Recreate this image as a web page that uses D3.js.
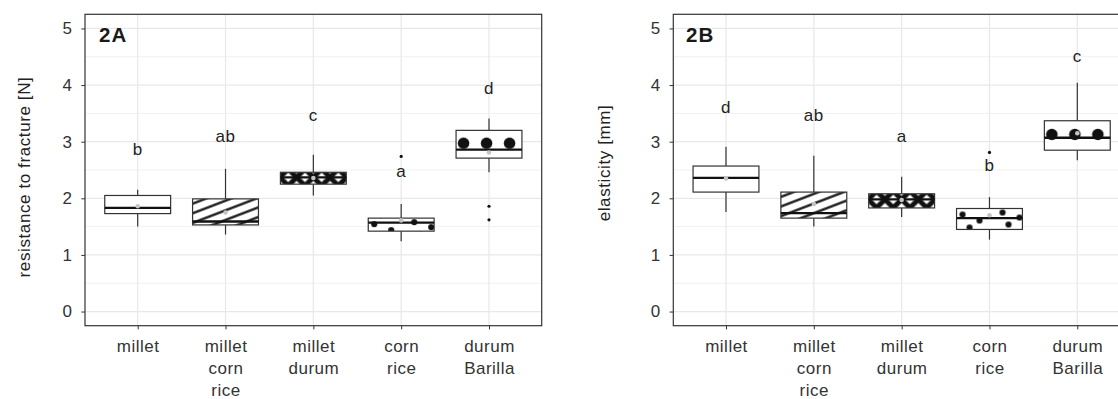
<!DOCTYPE html>
<html>
<head>
<meta charset="utf-8">
<script src="https://cdn.jsdelivr.net/npm/d3@7"></script>
<style>
  body { margin: 0; background: #fff; }
  text { font-family: "Liberation Sans", Arial, sans-serif; }
</style>
</head>
<body>
<div id="viz"></div>
<script>
// categories and their multi-line axis labels
const categories = ["millet", "millet corn rice", "millet durum", "corn rice", "durum Barilla"];
const catLabels = [["millet"], ["millet", "corn", "rice"], ["millet", "durum"], ["corn", "rice"], ["durum", "Barilla"]];
const yTicks = [0, 1, 2, 3, 4, 5];
const yMinor = [0.5, 1.5, 2.5, 3.5, 4.5];
const fills = ["plain", "stripe", "weave", "dots", "circles"];

// 2A - resistance to fracture [N]
const fracLow = [1.50, 1.36, 2.05, 1.24, 2.46];
const fracQ1 = [1.73, 1.53, 2.25, 1.42, 2.71];
const fracMedian = [1.83, 1.59, 2.37, 1.57, 2.86];
const fracQ3 = [2.05, 1.99, 2.46, 1.65, 3.20];
const fracHigh = [2.15, 2.52, 2.77, 1.90, 3.41];
const fracMean = [1.86, 1.75, 2.36, 1.61, 2.81];
const fracOutliers = [[], [], [], [2.74], [1.86, 1.62]];
const fracLetters = ["b", "ab", "c", "a", "d"];
const fracLetterY = [2.77, 3.00, 3.37, 2.38, 3.84];

// 2B - elasticity [mm]
const elaLow = [1.76, 1.50, 1.67, 1.27, 2.67];
const elaQ1 = [2.11, 1.65, 1.83, 1.45, 2.85];
const elaMedian = [2.36, 1.74, 1.98, 1.65, 3.07];
const elaQ3 = [2.57, 2.11, 2.08, 1.82, 3.37];
const elaHigh = [2.91, 2.75, 2.38, 2.02, 4.04];
const elaMean = [2.35, 1.90, 1.97, 1.70, 3.15];
const elaOutliers = [[], [], [], [2.81], []];
const elaLetters = ["d", "ab", "a", "b", "c"];
const elaLetterY = [3.51, 3.37, 3.00, 2.49, 4.41];

const panels = [
    { key: "A", tag: "2A", title: "resistance to fracture [N]", left: 85, titleX: -55, titleY: 177,
      low: fracLow, q1: fracQ1, median: fracMedian, q3: fracQ3, high: fracHigh, mean: fracMean,
      outliers: fracOutliers, letters: fracLetters, letterY: fracLetterY },
    { key: "B", tag: "2B", title: "elasticity [mm]", left: 673.3, titleX: -63.3, titleY: 163,
      low: elaLow, q1: elaQ1, median: elaMedian, q3: elaQ3, high: elaHigh, mean: elaMean,
      outliers: elaOutliers, letters: elaLetters, letterY: elaLetterY }
];

const dims = { width: 1118, height: 399, top: 14.3, bottom: 325.7, plotW: 456.7 };
const fontSize = 17;
const spacing = '0.5px';

const svg = d3.select('#viz').append('svg')
    .attr('width', dims.width)
    .attr('height', dims.height);
const defs = svg.append('defs');

function makePattern(id, type, bx, by, bw, bh, cx, my) {
    if (type === 'stripe') {
        const p = defs.append('pattern').attr('id', id)
            .attr('patternUnits', 'userSpaceOnUse')
            .attr('width', 30).attr('height', 9)
            .attr('patternTransform', `translate(${bx},${by}) rotate(-21)`);
        p.append('line').attr('x1', 0).attr('x2', 30).attr('y1', 4.5).attr('y2', 4.5)
            .attr('stroke', '#111').attr('stroke-width', 2.3);
    } else if (type === 'weave') {
        const s = 11.8;
        const p = defs.append('pattern').attr('id', id)
            .attr('patternUnits', 'userSpaceOnUse')
            .attr('width', s).attr('height', s)
            .attr('patternTransform', `translate(${cx + 8.3},${my}) rotate(45) translate(${-s / 2},${-s / 2})`);
        p.append('rect').attr('width', s).attr('height', s).attr('fill', '#fff');
        p.append('path')
            .attr('d', `M0,0H${s}M0,${s}H${s}M0,0V${s}M${s},0V${s}`)
            .attr('stroke', '#111').attr('stroke-width', 5);
    } else if (type === 'dots') {
        const p = defs.append('pattern').attr('id', id)
            .attr('patternUnits', 'userSpaceOnUse')
            .attr('x', bx).attr('y', by)
            .attr('width', bw).attr('height', 22);
        [[6, 6], [23, 12], [46, 4], [52, 16], [63, 9], [13, 19]].forEach(d => {
            p.append('circle').attr('cx', d[0]).attr('cy', d[1]).attr('r', 3.1).attr('fill', '#111');
        });
    } else if (type === 'circles') {
        const p = defs.append('pattern').attr('id', id)
            .attr('patternUnits', 'userSpaceOnUse')
            .attr('x', bx + 7.5 - 11.5).attr('y', (by + bh / 2) - 12.5)
            .attr('width', 23).attr('height', 23);
        p.append('circle').attr('cx', 11.5).attr('cy', 11.5).attr('r', 5.8).attr('fill', '#111');
    }
}

panels.forEach(p => {
    const g = svg.append('g').attr('transform', `translate(${p.left},0)`);

    const x = d3.scalePoint().domain(categories).range([0, dims.plotW]).padding(0.6);
    const y = d3.scaleLinear().domain([-0.25, 5.25]).range([dims.bottom, dims.top]);
    const bw = x.step() * 0.75;

    // grid
    g.append('g').selectAll('line').data(yMinor).enter().append('line')
        .attr('x1', 0).attr('x2', dims.plotW)
        .attr('y1', d => y(d)).attr('y2', d => y(d))
        .attr('stroke', '#f1f1f1').attr('stroke-width', 1);
    g.append('g').selectAll('line').data(yTicks).enter().append('line')
        .attr('x1', 0).attr('x2', dims.plotW)
        .attr('y1', d => y(d)).attr('y2', d => y(d))
        .attr('stroke', '#e8e8e8').attr('stroke-width', 1.2);
    g.append('g').selectAll('line').data(categories).enter().append('line')
        .attr('x1', d => x(d)).attr('x2', d => x(d))
        .attr('y1', dims.top).attr('y2', dims.bottom)
        .attr('stroke', '#e8e8e8').attr('stroke-width', 1.2);

    // axes
    const yAxis = g.append('g')
        .call(d3.axisLeft(y).tickValues(yTicks).tickFormat(d3.format('d')).tickSize(3.7).tickPadding(9.4));
    yAxis.select('.domain').remove();
    yAxis.selectAll('line').attr('stroke', '#333');
    yAxis.selectAll('text').attr('font-size', fontSize).attr('fill', '#333')
        .attr('font-family', '"Liberation Sans", Arial, sans-serif');

    const xAxis = g.append('g').attr('transform', `translate(0,${dims.bottom})`)
        .call(d3.axisBottom(x).tickSize(3.7));
    xAxis.select('.domain').remove();
    xAxis.selectAll('line').attr('stroke', '#333');
    xAxis.selectAll('text').each(function (d, i) {
        const t = d3.select(this).text(null).attr('y', 0).attr('dy', null)
            .attr('font-size', fontSize).attr('fill', '#333')
            .attr('font-family', '"Liberation Sans", Arial, sans-serif')
            .style('letter-spacing', spacing);
        catLabels[i].forEach((line, k) => {
            t.append('tspan').attr('x', 0).attr('y', 26.8 + k * 21.6).text(line);
        });
    });

    // boxes
    const boxes = g.append('g').selectAll('g').data(categories).enter().append('g');
    boxes.append('line')
        .attr('x1', d => x(d)).attr('x2', d => x(d))
        .attr('y1', (d, i) => y(p.high[i])).attr('y2', (d, i) => y(p.q3[i]))
        .attr('stroke', '#333').attr('stroke-width', 1.2);
    boxes.append('line')
        .attr('x1', d => x(d)).attr('x2', d => x(d))
        .attr('y1', (d, i) => y(p.q1[i])).attr('y2', (d, i) => y(p.low[i]))
        .attr('stroke', '#333').attr('stroke-width', 1.2);
    boxes.append('rect')
        .attr('x', d => x(d) - bw / 2).attr('width', bw)
        .attr('y', (d, i) => y(p.q3[i]))
        .attr('height', (d, i) => y(p.q1[i]) - y(p.q3[i]))
        .attr('fill', '#fff');
    boxes.each(function (d, i) {
        if (fills[i] === 'plain') return;
        const id = `fill-${p.key}-${i}`;
        const bx = x(d) - bw / 2, by = y(p.q3[i]), bh = y(p.q1[i]) - y(p.q3[i]);
        makePattern(id, fills[i], bx, by, bw, bh, x(d), y(p.median[i]));
        d3.select(this).append('rect')
            .attr('x', bx).attr('y', by).attr('width', bw).attr('height', bh)
            .attr('fill', `url(#${id})`);
    });
    boxes.append('rect')
        .attr('x', d => x(d) - bw / 2).attr('width', bw)
        .attr('y', (d, i) => y(p.q3[i]))
        .attr('height', (d, i) => y(p.q1[i]) - y(p.q3[i]))
        .attr('fill', 'none').attr('stroke', '#333').attr('stroke-width', 1.2);
    boxes.append('line')
        .attr('x1', d => x(d) - bw / 2).attr('x2', d => x(d) + bw / 2)
        .attr('y1', (d, i) => y(p.median[i])).attr('y2', (d, i) => y(p.median[i]))
        .attr('stroke', '#111').attr('stroke-width', 2.3);
    boxes.append('circle')
        .attr('cx', d => x(d)).attr('cy', (d, i) => y(p.mean[i]))
        .attr('r', 2.3).attr('fill', '#c4c4c4');
    boxes.each(function (d, i) {
        d3.select(this).selectAll('circle.out').data(p.outliers[i]).enter().append('circle')
            .attr('class', 'out')
            .attr('cx', x(d)).attr('cy', v => y(v))
            .attr('r', 1.6).attr('fill', '#111');
    });

    // significance letters
    g.append('g').selectAll('text').data(categories).enter().append('text')
        .attr('x', d => x(d)).attr('y', (d, i) => y(p.letterY[i]))
        .attr('text-anchor', 'middle')
        .attr('font-size', fontSize).attr('fill', '#222')
        .style('letter-spacing', spacing)
        .text((d, i) => p.letters[i]);

    // panel border
    g.append('rect')
        .attr('x', 0).attr('y', dims.top)
        .attr('width', dims.plotW).attr('height', dims.bottom - dims.top)
        .attr('fill', 'none').attr('stroke', '#333').attr('stroke-width', 1.2);

    // panel tag and axis title
    g.append('text')
        .attr('x', p.key === 'A' ? 14 : 12.7).attr('y', 42.3)
        .attr('font-size', 20.5).attr('font-weight', 'bold').attr('fill', '#1a1a1a')
        .style('letter-spacing', '1.2px')
        .text(p.tag);
    g.append('text')
        .attr('transform', `translate(${p.titleX},${p.titleY}) rotate(-90)`)
        .attr('text-anchor', 'middle')
        .attr('font-size', fontSize).attr('fill', '#222')
        .style('letter-spacing', '0.6px')
        .text(p.title);
});
</script>
</body>
</html>
